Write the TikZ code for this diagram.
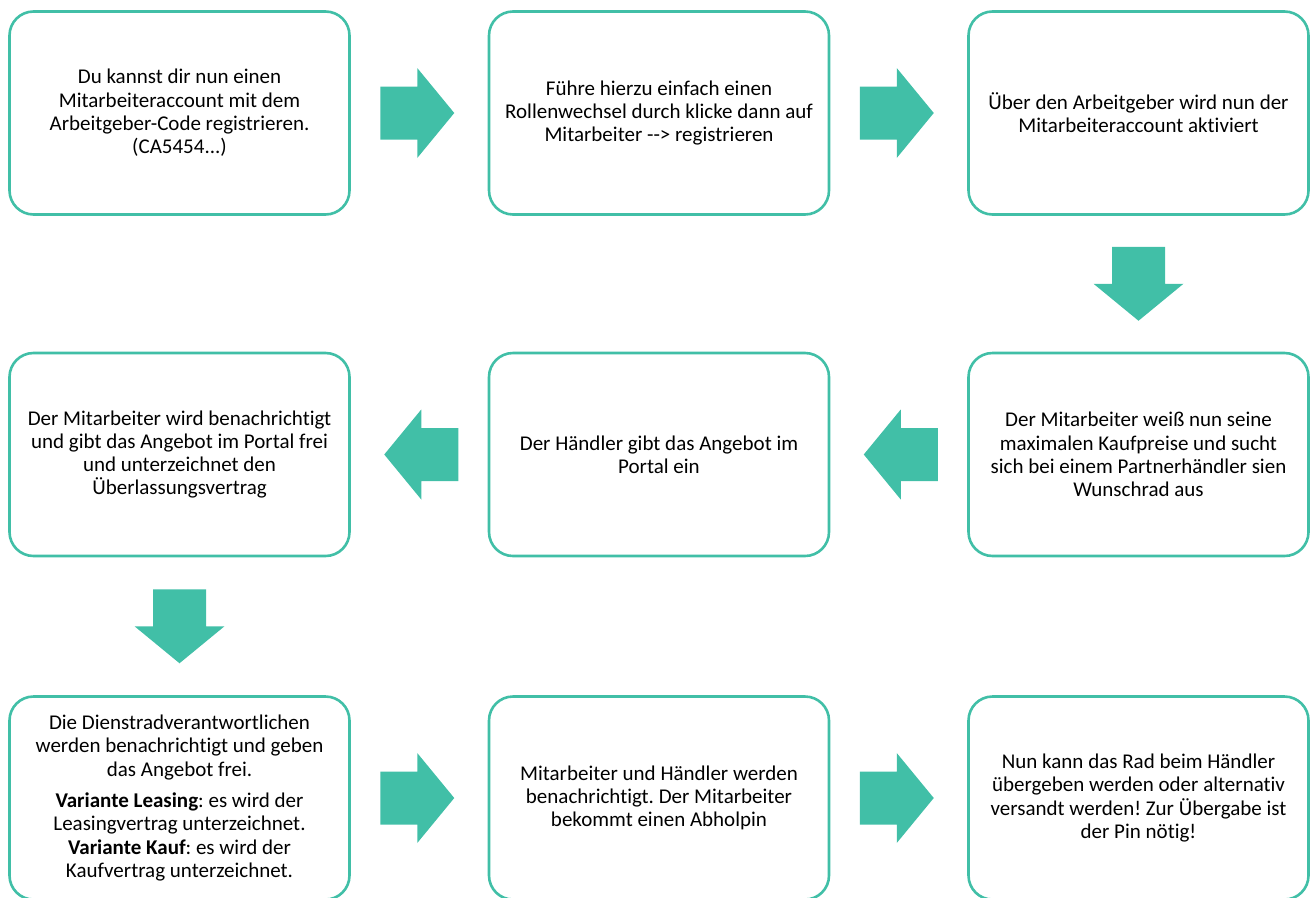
\documentclass[tikz,border=0pt]{standalone}
\usepackage{fontspec}
\setmainfont{Carlito}[Ligatures={NoCommon}]
\usetikzlibrary{calc}
\definecolor{teal1}{RGB}{65,191,167}
\begin{document}
\frenchspacing
\begin{tikzpicture}[x=1pt,y=-1pt,
  box/.style={draw=teal1, line width=2.6pt, rounded corners=24pt, fill=white,
    minimum width=340pt, minimum height=203pt, align=center, inner sep=0pt,
    font=\fontsize{21}{23.3}\selectfont\frenchspacing, text=black},
  rarrow/.pic={\fill[teal1] (-37,-26.5) -- (0,-26.5) -- (0,-45) -- (37,0) -- (0,45) -- (0,26.5) -- (-37,26.5) -- cycle;},
  larrow/.pic={\fill[teal1] (37,-26.5) -- (0,-26.5) -- (0,-45) -- (-37,0) -- (0,45) -- (0,26.5) -- (37,26.5) -- cycle;},
  darrow/.pic={\fill[teal1] (-26.5,-37) -- (-26.5,0) -- (-45,0) -- (0,37) -- (45,0) -- (26.5,0) -- (26.5,-37) -- cycle;}
]
\useasboundingbox (0,0) rectangle (1311,897);

\node[box] (a1) at (179.5,113) {Du kannst dir nun einen\\Mitarbeiteraccount mit dem\\Arbeitgeber-Code registrieren.\\(CA5454...)};
\node[box] (a2) at (659,113) {Führe hierzu einfach einen\\Rollenwechsel durch klicke dann auf\\Mitarbeiter -{}-{}> registrieren};
\node[box] (a3) at (1138.5,113) {Über den Arbeitgeber wird nun der\\Mitarbeiteraccount aktiviert};

\node[box] (b3) at (1138.5,454.5) {Der Mitarbeiter weiß nun seine\\maximalen Kaufpreise und sucht\\sich bei einem Partnerhändler sien\\Wunschrad aus};
\node[box] (b2) at (659,454.5) {Der Händler gibt das Angebot im\\Portal ein};
\node[box] (b1) at (179.5,454.5) {Der Mitarbeiter wird benachrichtigt\\und gibt das Angebot im Portal frei\\und unterzeichnet den\\Überlassungsvertrag};

\node[box] (c1) at (179.5,798) {Die Dienstradverantwortlichen\\werden benachrichtigt und geben\\das Angebot frei.\\[8pt]\textbf{Variante Leasing}: es wird der\\Leasingvertrag unterzeichnet.\\\textbf{Variante Kauf}: es wird der\\Kaufvertrag unterzeichnet.};
\node[box] (c2) at (659,798) {Mitarbeiter und Händler werden\\benachrichtigt. Der Mitarbeiter\\bekommt einen Abholpin};
\node[box] (c3) at (1138.5,798) {Nun kann das Rad beim Händler\\übergeben werden oder alternativ\\versandt werden! Zur Übergabe ist\\der Pin nötig!};

\pic at ($(a1.east)!0.5!(a2.west)+(-2,0)$) {rarrow};
\pic at ($(a2.east)!0.5!(a3.west)+(-2,0)$) {rarrow};
\pic at ($(a3.south)!0.5!(b3.north)$) {darrow};
\pic at ($(b3.west)!0.5!(b2.east)+(2,0)$) {larrow};
\pic at ($(b2.west)!0.5!(b1.east)+(2,0)$) {larrow};
\pic at ($(b1.south)!0.5!(c1.north)$) {darrow};
\pic at ($(c1.east)!0.5!(c2.west)+(-2,0)$) {rarrow};
\pic at ($(c2.east)!0.5!(c3.west)+(-2,0)$) {rarrow};
\end{tikzpicture}
\end{document}
